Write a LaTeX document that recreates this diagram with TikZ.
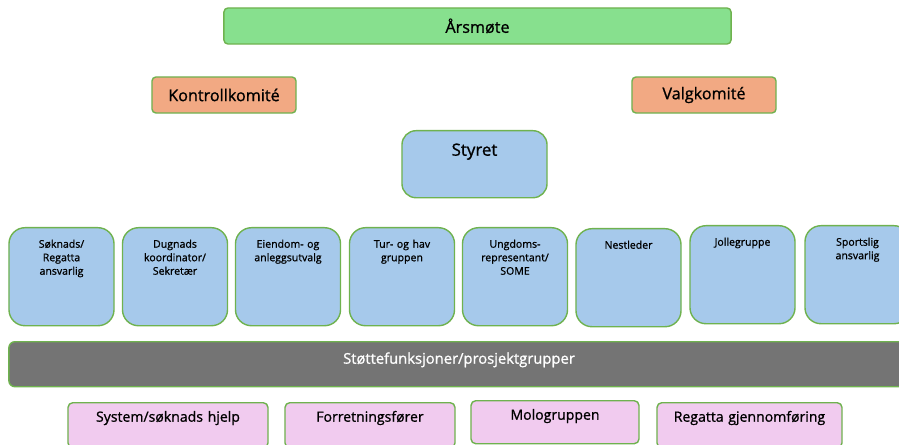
\documentclass[tikz,border=0pt]{standalone}
\usepackage{fontspec}
\setmainfont{Open Sans}[FakeBold=1]
\usepackage{tikz}
\usetikzlibrary{calc}

\definecolor{boxline}{HTML}{6FB24F}
\definecolor{moteGreen}{HTML}{87E08E}
\definecolor{komOrange}{HTML}{F2A983}
\definecolor{styreBlue}{HTML}{A6C9EB}
\definecolor{stotteGrey}{HTML}{747474}
\definecolor{gruppePink}{HTML}{F1CBEF}

\begin{document}
\begin{tikzpicture}[x = 0.025cm, y = -0.025cm]
	\tikzset{every node/.style = {draw = boxline, line width = 1pt, inner sep = 0pt, align = center}}
	\tikzset{komite/.style = {fill = komOrange, rounded corners = 0.1cm, minimum width = 3.6cm, minimum height = 0.9cm, font = \fontsize{11.5}{13}\selectfont}}
	\tikzset{verv/.style = {anchor = north, fill = styreBlue, rounded corners = 0.4cm, text width = 2.625cm, text height = 0.5cm, text depth = 1.95cm, font = \fontsize{7.5}{9.6}\selectfont}}
	\tikzset{gruppe/.style = {anchor = north, fill = gruppePink, rounded corners = 0.12cm, text height = 0.475cm, text depth = 0.65cm, font = \fontsize{10}{12}\selectfont}}

\useasboundingbox (0,0) rectangle (899,445);
\clip (0,0) rectangle (899,445);

%% Top node
\draw (477.5,26) node[name = arsmote, fill = moteGreen, rounded corners = 0.1cm, minimum width = 12.675cm, minimum height = 0.9cm, font = \fontsize{11.5}{13}\selectfont]{Årsmøte};

%% Committees
\draw (224,95) node[komite, name = kontroll]{Kontrollkomité};
\draw (704,95) node[komite, name = valg]{Valgkomité};

%% Board
\draw (474.5,130) node[name = styret, anchor = north, fill = styreBlue, rounded corners = 0.35cm, text width = 3.625cm, text height = 0.625cm, text depth = 1.05cm, font = \fontsize{12}{14}\selectfont]{Styret};

%% Board members
\draw (61.5,227) node[verv, name = soknad]{Søknads/\\Regatta\\ansvarlig};
\draw (175,227) node[verv, name = dugnad]{Dugnads\\koordinator/\\Sekretær};
\draw (288,227) node[verv, name = eiendom]{Eiendom- og\\anleggsutvalg};
\draw (402,227) node[verv, name = turhav]{Tur- og hav\\gruppen};
\draw (515,227) node[verv, name = ungdom]{Ungdoms-\\representant/\\SOME};
\draw (628.5,228) node[verv, name = nestleder]{Nestleder};
\draw (742.5,225) node[verv, name = jolle]{Jollegruppe};
\draw (857.5,225) node[verv, name = sport]{Sportslig\\ansvarlig};

%% Support bar
\draw (459,341) node[name = stotte, anchor = north, fill = stotteGrey, text = white, rounded corners = 0.15cm, text width = 22.5cm, text height = 0.55cm, text depth = 0.575cm, font = \fontsize{10.5}{12}\selectfont]{Støttefunksjoner/prosjektgrupper};

%% Project groups
\draw (168,402) node[gruppe, name = system, text width = 5cm]{System/søknads hjelp};
\draw (370,402) node[gruppe, name = forretning, text width = 4.25cm]{Forretningsfører};
\draw (555,400) node[gruppe, name = molo, text width = 4.2cm, text depth = 0.6cm]{Mologruppen};
\draw (749.5,402) node[gruppe, name = regatta, text width = 4.625cm]{Regatta gjennomføring};
\end{tikzpicture}
\end{document}
